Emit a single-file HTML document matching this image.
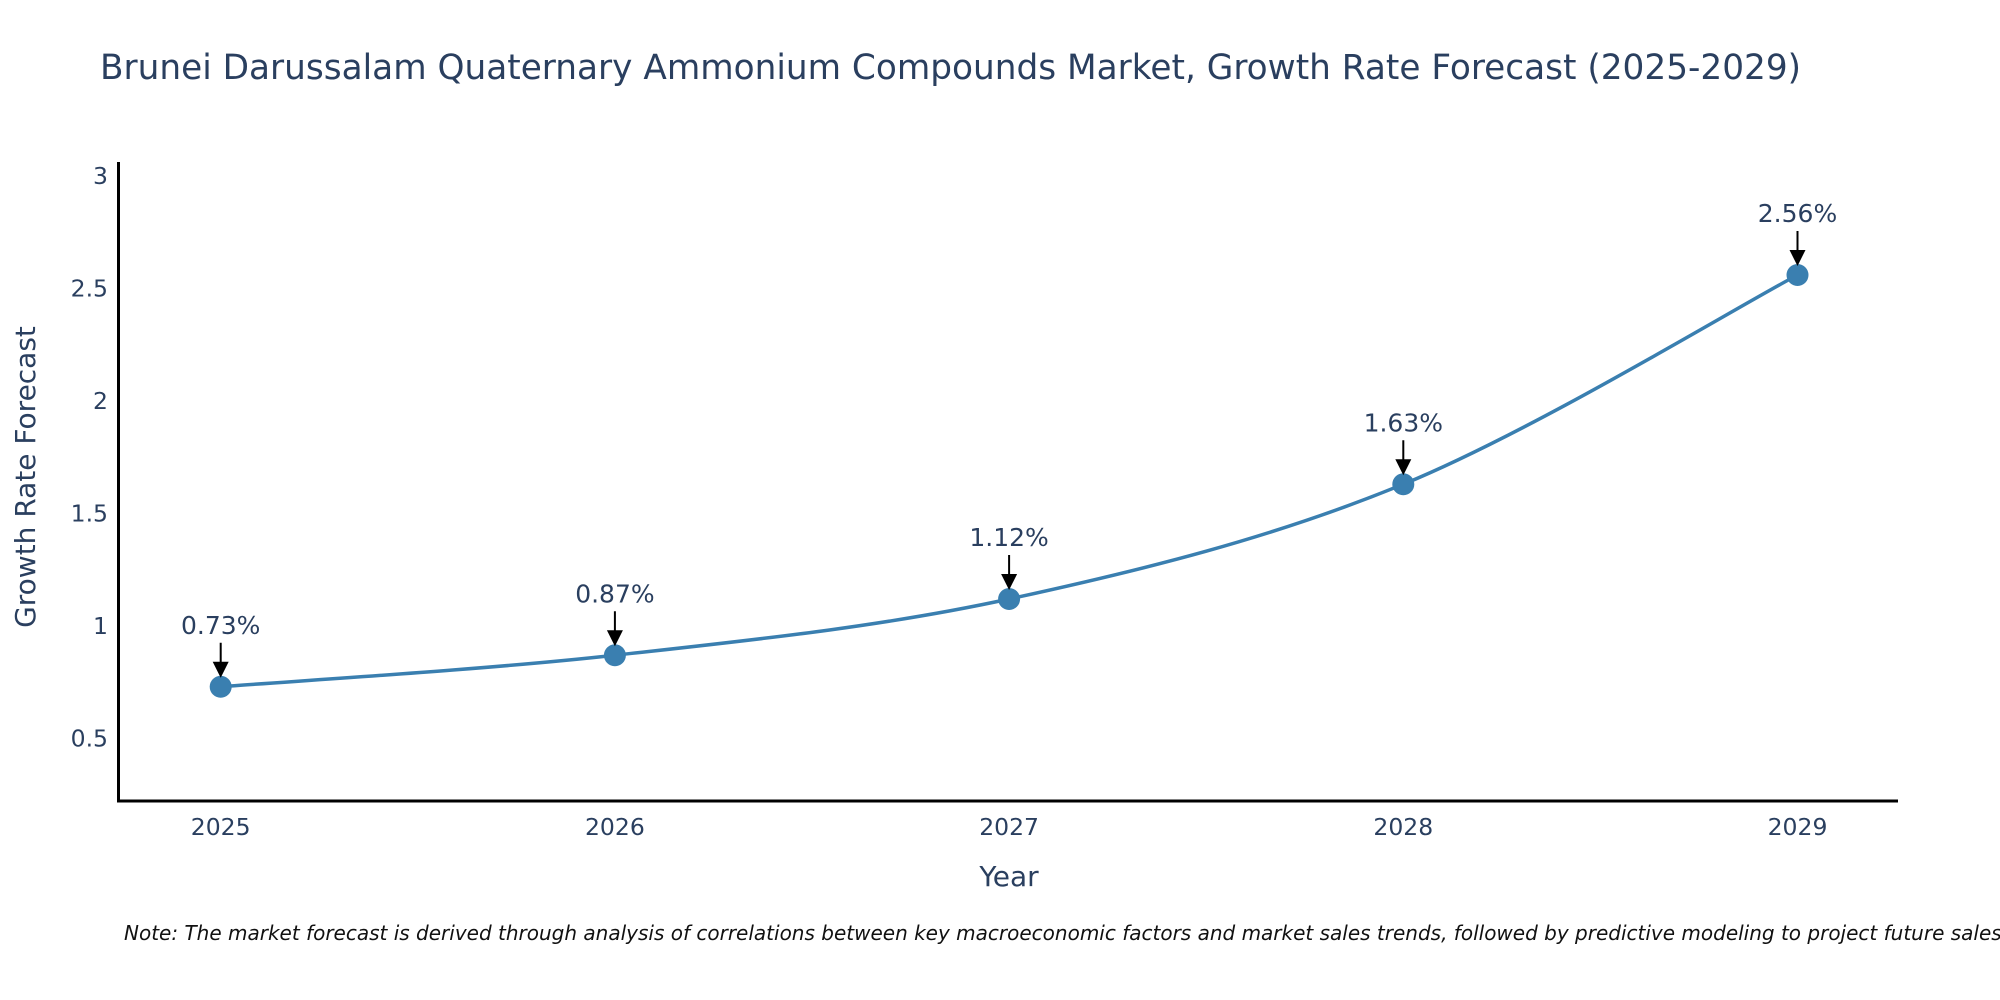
<!DOCTYPE html>
<html><head><meta charset="utf-8"><style>
body{margin:0;background:#fff;}
svg{display:block;font-family:"DejaVu Sans","Liberation Sans",sans-serif;}
</style></head><body>
<svg id="chart" width="2000" height="1000" viewBox="0 0 2000 1000">
<text x="100" y="79" font-size="34.3" fill="#2a3f5f">Brunei Darussalam Quaternary Ammonium Compounds Market, Growth Rate Forecast (2025-2029)</text>
<g id="yticks"></g><g id="xticks"></g>
<line x1="118.5" y1="162" x2="118.5" y2="802" stroke="#000" stroke-width="3"/>
<line x1="117" y1="801" x2="1898" y2="801" stroke="#000" stroke-width="3"/>
<path id="line" fill="none" stroke="#3a7fb0" stroke-width="3.5"/>
<g id="marks"></g>
<text x="1009" y="886" font-size="28" fill="#2a3f5f" text-anchor="middle">Year</text>
<text transform="translate(35,477) rotate(-90)" font-size="28" fill="#2a3f5f" text-anchor="middle">Growth Rate Forecast</text>
<text x="124" y="940" font-size="20" font-style="italic" fill="#111">Note: The market forecast is derived through analysis of correlations between key macroeconomic factors and market sales trends, followed by predictive modeling to project future sales.</text>
</svg>
<script>
const years=[2025,2026,2027,2028,2029];
const values=[0.73,0.87,1.12,1.63,2.56];
const labels=["0.73%","0.87%","1.12%","1.63%","2.56%"];
const yTicks=[0.5,1,1.5,2,2.5,3];
const NS="http://www.w3.org/2000/svg";
const xs=v=>220.7+(v-2025)*394.2;
const ys=v=>851-v*225;
function mk(t,a,p){const e=document.createElementNS(NS,t);for(const k in a)e.setAttribute(k,a[k]);p.appendChild(e);return e;}
const yg=document.getElementById('yticks'),xg=document.getElementById('xticks'),mg=document.getElementById('marks');
yTicks.forEach(t=>{const e=mk('text',{x:108,y:ys(t)+8,'font-size':23.5,fill:'#2a3f5f','text-anchor':'end'},yg);e.textContent=String(t);

});
years.forEach(y=>{const e=mk('text',{x:xs(y),y:835,'font-size':23.5,fill:'#2a3f5f','text-anchor':'middle'},xg);e.textContent=String(y);

});
const P=years.map((y,i)=>[xs(y),ys(values[i])]);
let d=`M${P[0][0]},${P[0][1]}`;
for(let i=0;i<P.length-1;i++){const p0=P[Math.max(0,i-1)],p1=P[i],p2=P[i+1],p3=P[Math.min(P.length-1,i+2)];const s=6;
d+=` C${p1[0]+(p2[0]-p0[0])/s},${p1[1]+(p2[1]-p0[1])/s} ${p2[0]-(p3[0]-p1[0])/s},${p2[1]-(p3[1]-p1[1])/s} ${p2[0]},${p2[1]}`;}
document.getElementById('line').setAttribute('d',d);
P.forEach((p,i)=>{
const c=mk('circle',{cx:p[0],cy:p[1],r:11,fill:'#3a7fb0'},mg);


const l=mk('line',{x1:p[0],y1:p[1]-44,x2:p[0],y2:p[1]-22,stroke:'#000','stroke-width':2},mg);


const h=mk('polygon',{points:`${p[0]-8},${p[1]-25} ${p[0]+8},${p[1]-25} ${p[0]},${p[1]-9}`,fill:'#000'},mg);


const t=mk('text',{x:p[0],y:p[1]-53,'font-size':25,fill:'#2a3f5f','text-anchor':'middle'},mg);t.textContent=labels[i];


});
</script>
</body></html>
